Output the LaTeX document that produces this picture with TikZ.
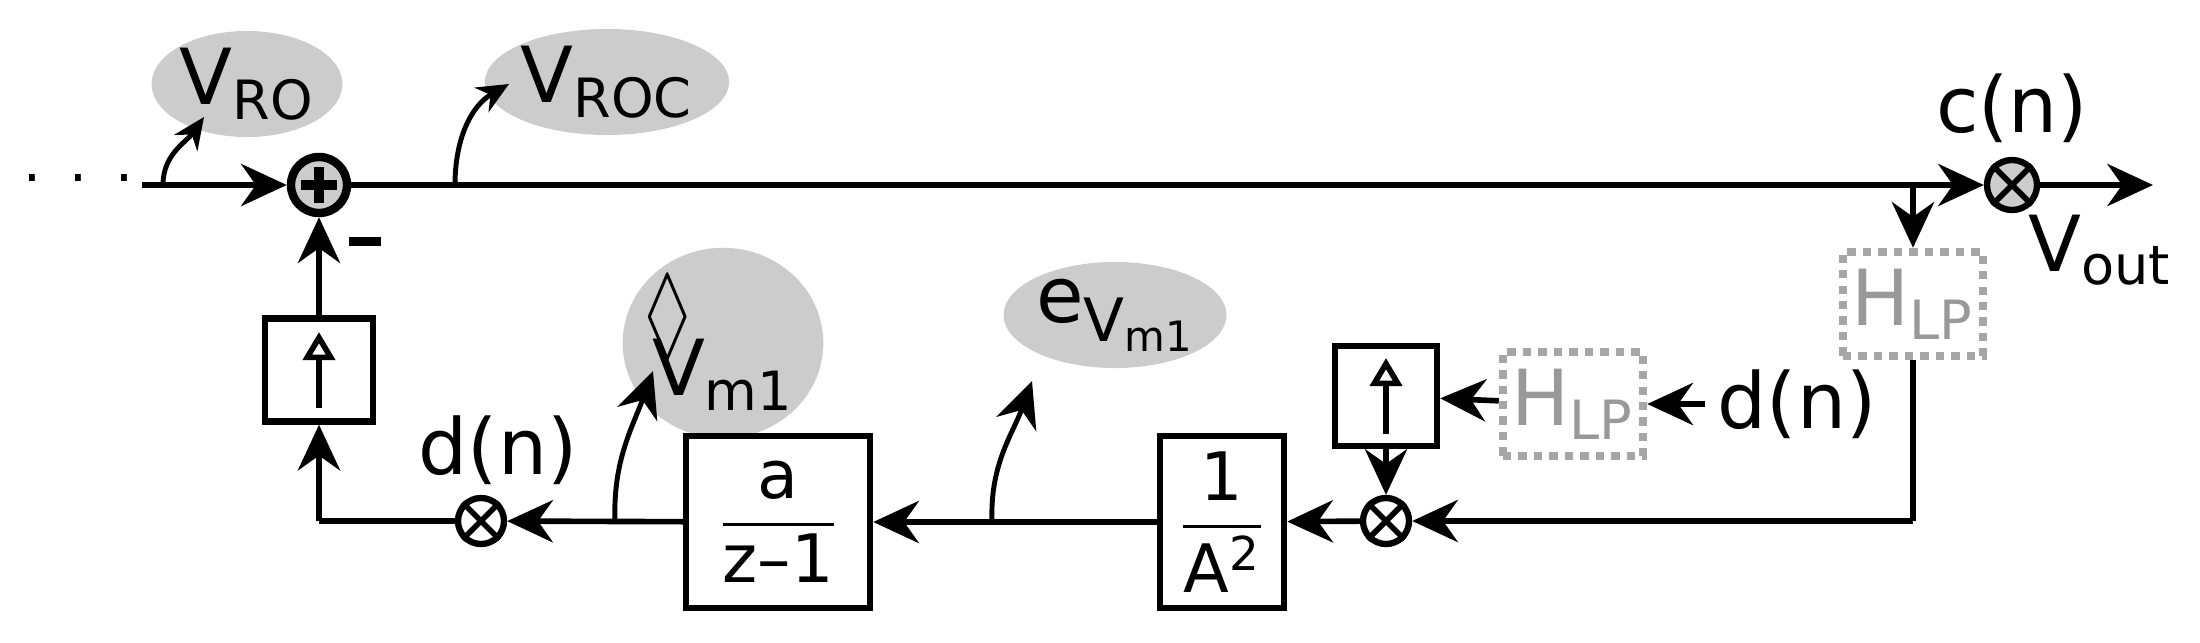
\documentclass[tikz,border=0pt]{standalone}
\usepackage{amsmath,amssymb}
\usepackage{fontspec}
\setmainfont{DejaVu Sans}
\usetikzlibrary{arrows.meta,shapes.geometric}
\tikzset{
  sig/.style={line width=1.6pt,-{Stealth[length=13pt,width=12pt]}},
  wire/.style={line width=1.6pt},
  blk/.style={draw,line width=1.8pt,minimum width=1.8cm,minimum height=1.72cm,inner sep=0pt,font=\fontsize{19}{22}\selectfont},
  upblk/.style={draw,line width=1.8pt,minimum width=1.02cm,minimum height=1.0cm,inner sep=0pt},
  lpblk/.style={draw=gray!70,dotted,line width=2.4pt,minimum width=1.4cm,minimum height=1.04cm,text=gray!80,inner sep=0pt},
  mult/.style={circle,draw,line width=1.8pt,minimum size=0.46cm,inner sep=0pt},
  tag/.style={ellipse,fill=black!20,minimum width=1.8cm,minimum height=1.06cm,inner sep=0pt},
  lbl/.style={font=\fontsize{22}{26}\selectfont}
}
\begin{document}
\begin{tikzpicture}[x=0.01cm,y=-0.01cm]
\useasboundingbox (0,0) rectangle (2200,642);
% tags
\node[tag,lbl,minimum width=1.72cm] (tro) at (247,84) {V\textsubscript{RO}};
\node[tag,lbl,minimum width=2.04cm] (troc) at (607,82) {V\textsubscript{ROC}};
\node[tag,lbl,minimum width=1.75cm] (tvm) at (723,343) {\rlap{\raisebox{0.62em}{\kern-0.1em\scalebox{0.9}[1.35]{$\Diamond$}}}V\textsubscript{m1}};
\node[tag,lbl,minimum width=1.85cm] (tev) at (1115,315) {e\raisebox{-0.25em}{\fontsize{17}{17}\selectfont V\textsubscript{m1}}};
% forward path
\node[font=\fontsize{16}{16}\selectfont] (dots) at (78,178) {.\,\,\,.\,\,\,.};
\coordinate (in) at (142,185);
\node[circle,draw,fill=black!20,line width=2.4pt,minimum size=0.56cm,inner sep=0pt] (sum) at (319,185) {};
\draw[line width=3pt] (sum.center)+(0,-18)--+(0,18) (sum.center)+(-18,0)--+(18,0);
\node[mult,fill=black!20,minimum size=0.5cm] (cm) at (2012,185) {};
\draw[line width=1.6pt] (cm.north west)--(cm.south east) (cm.north east)--(cm.south west);
\node[lbl] (cn) at (2012,108) {c(n)};
\node[lbl] (vout) at (2100,250) {V\textsubscript{out}};
\coordinate (out) at (2153,185);
\coordinate (tapa) at (163,185);
\coordinate (tapb) at (455,185);
\coordinate (tapc) at (1913,185);
\draw[sig] (in) -- (sum);
\draw[sig] (sum) -- (cm);
\draw[sig] (cm) -- (out);
\draw[sig,line width=1.4pt,-{Stealth[length=9pt,width=8pt]}] (tapa) to[out=90,in=235] (204,117);
\draw[sig,line width=1.4pt,-{Stealth[length=9pt,width=8pt]}] (tapb) to[out=90,in=210] (509,84);
\node[fill,minimum width=0.32cm,minimum height=0.09cm,inner sep=0pt] (minus) at (365,241) {};
% feedback path
\node[lpblk,lbl] (lpa) at (1913,304) {H\textsubscript{LP}};
\node[lpblk,lbl] (lpb) at (1573,404) {H\textsubscript{LP}};
\node[lbl] (dnr) at (1797,404) {d(n)};
\node[upblk] (upr) at (1386,396) {};
\draw[line width=1.6pt,-{Triangle[open,length=8pt,width=9pt]}] (upr.center)+(0,38)--+(0,-38);
\node[mult] (mr) at (1386,521) {};
\draw[line width=1.6pt] (mr.north west)--(mr.south east) (mr.north east)--(mr.south west);
\node[blk,minimum width=1.24cm] (ga) at (1222,522) {$\dfrac{\text{1}}{\text{A\textsuperscript{2}}}$};
\node[blk,minimum width=1.84cm] (gi) at (778,522) {$\dfrac{\text{a}}{\text{z–1}}$};
\node[mult] (ml) at (481,521) {};
\draw[line width=1.6pt] (ml.north west)--(ml.south east) (ml.north east)--(ml.south west);
\node[lbl] (dnl) at (498,450) {d(n)};
\node[upblk,minimum width=1.08cm,minimum height=1.03cm] (upl) at (319,370) {};
\draw[line width=1.6pt,-{Triangle[open,length=8pt,width=9pt]}] (upl.center)+(0,38)--+(0,-38);
\coordinate (cr) at (1913,521);
\coordinate (cl) at (319,521);
\coordinate (tapd) at (615,521);
\coordinate (tape) at (992,521);
\draw[sig] (tapc) -- (lpa);
\draw[wire] (lpa) -- (cr);
\draw[sig] (cr) -- (mr);
\draw[sig] (dnr) -- (lpb);
\draw[sig] (lpb) -- (upr);
\draw[sig] (upr) -- (mr);
\draw[sig] (mr) -- (ga);
\draw[sig] (ga) -- (gi);
\draw[sig] (gi) -- (ml);
\draw[wire] (ml) -- (cl);
\draw[sig] (cl) -- (upl);
\draw[sig] (upl) -- (sum);
\draw[sig,line width=1.4pt] (tapd) to[out=92,in=250] (653,371);
\draw[sig,line width=1.4pt] (tape) to[out=92,in=250] (1032,381);
\end{tikzpicture}
\end{document}
